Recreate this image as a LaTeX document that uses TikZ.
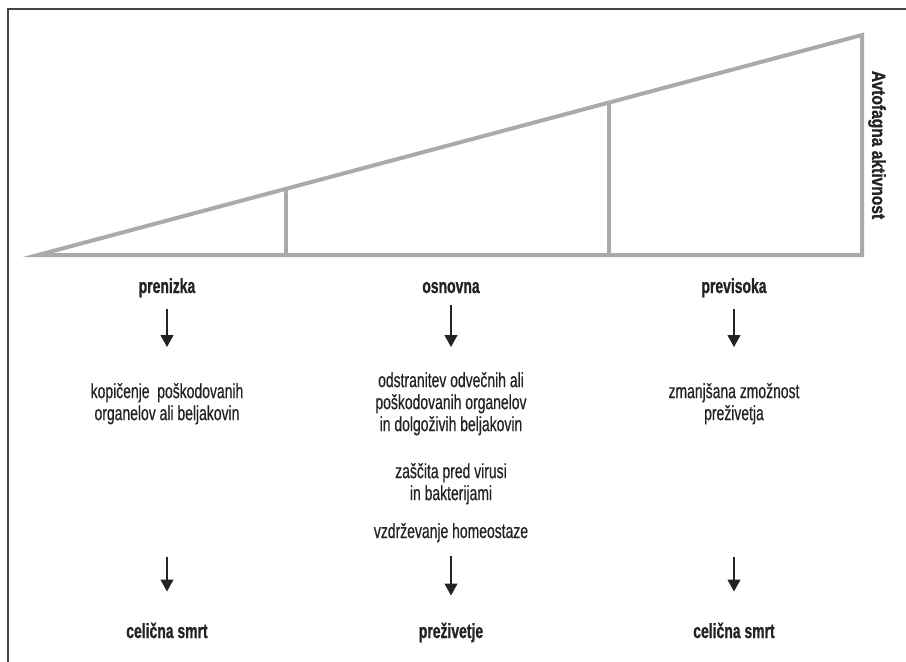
\documentclass[tikz,border=0pt]{standalone}
\usepackage{fontspec}
\setmainfont{Liberation Sans}[FakeStretch=0.68, UprightFeatures={FakeBold=0.5}, BoldFeatures={FakeBold=0.8}]
\newfontfamily\sidefont{Liberation Sans}[FakeStretch=0.82, BoldFeatures={FakeBold=1}]
\usetikzlibrary{arrows.meta}
\definecolor{framegray}{RGB}{70,70,70}
\definecolor{trigray}{RGB}{170,170,173}
\definecolor{ink}{RGB}{35,35,35}
\tikzset{
	lbl/.style={inner sep=0pt, text=ink, font=\fontsize{20.5}{22}\selectfont\bfseries},
	txt/.style={inner sep=0pt, text=ink, align=center, font=\fontsize{20.5}{22}\selectfont},
	arr/.style={draw=ink, line width=1.1pt, -{Triangle[width=13pt,length=12pt]}},
	tri/.style={draw=trigray, line width=4pt}
}
\begin{document}
\begin{tikzpicture}[x=1pt, y=-1pt]
	\useasboundingbox (0,0) rectangle (906,662);
	\draw[framegray, line width=1.5pt] (906,9) -- (8,9) -- (8,662);
	% triangle of activity
	\draw[tri] (38,255) -- (862,35) -- (862,255) -- cycle;
	\draw[tri] (286,188.8) -- (286,255);
	\draw[tri] (609,102.5) -- (609,255);
	\node[lbl, rotate=-90] (aa) at (877,145) {\sidefont\bfseries\fontsize{19}{21}\selectfont Avtofagna aktivnost};
	% columns
	\node[lbl, anchor=base] (pn) at (167,293) {prenizka};
	\node[lbl, anchor=base] (on) at (451,293) {osnovna};
	\node[lbl, anchor=base] (pv) at (734,293) {previsoka};
	\node[txt, anchor=north] (pnm) at (167,383) {kopičenje\ \ poškodovanih\\organelov ali beljakovin};
	\node[txt, anchor=north] (onm) at (451,372) {odstranitev odvečnih ali\\poškodovanih organelov\\in dolgoživih beljakovin};
	\node[txt, anchor=north] (onz) at (451,463) {zaščita pred virusi\\in bakterijami};
	\node[txt, anchor=base] (onv) at (451,538) {vzdrževanje homeostaze};
	\node[txt, anchor=north] (pvm) at (734,383) {zmanjšana zmožnost\\preživetja};
	\node[lbl, anchor=base] (pnb) at (167,638) {celična smrt};
	\node[lbl, anchor=base] (onb) at (451,638) {preživetje};
	\node[lbl, anchor=base] (pvb) at (734,638) {celična smrt};
	% arrows
	\draw[arr, shorten <=12pt, shorten >=36pt] (pn.south) -- (pnm.north);
	\draw[arr, shorten <=12pt, shorten >=25pt] (on.south) -- (onm.north);
	\draw[arr, shorten <=12pt, shorten >=36pt] (pv.south) -- (pvm.north);
	\draw[arr, shorten <=132pt, shorten >=31pt] (pnm.south) -- (pnb.north);
	\draw[arr, shorten <=14pt, shorten >=27pt] (onv.south) -- (onb.north);
	\draw[arr, shorten <=132pt, shorten >=31pt] (pvm.south) -- (pvb.north);
\end{tikzpicture}
\end{document}
